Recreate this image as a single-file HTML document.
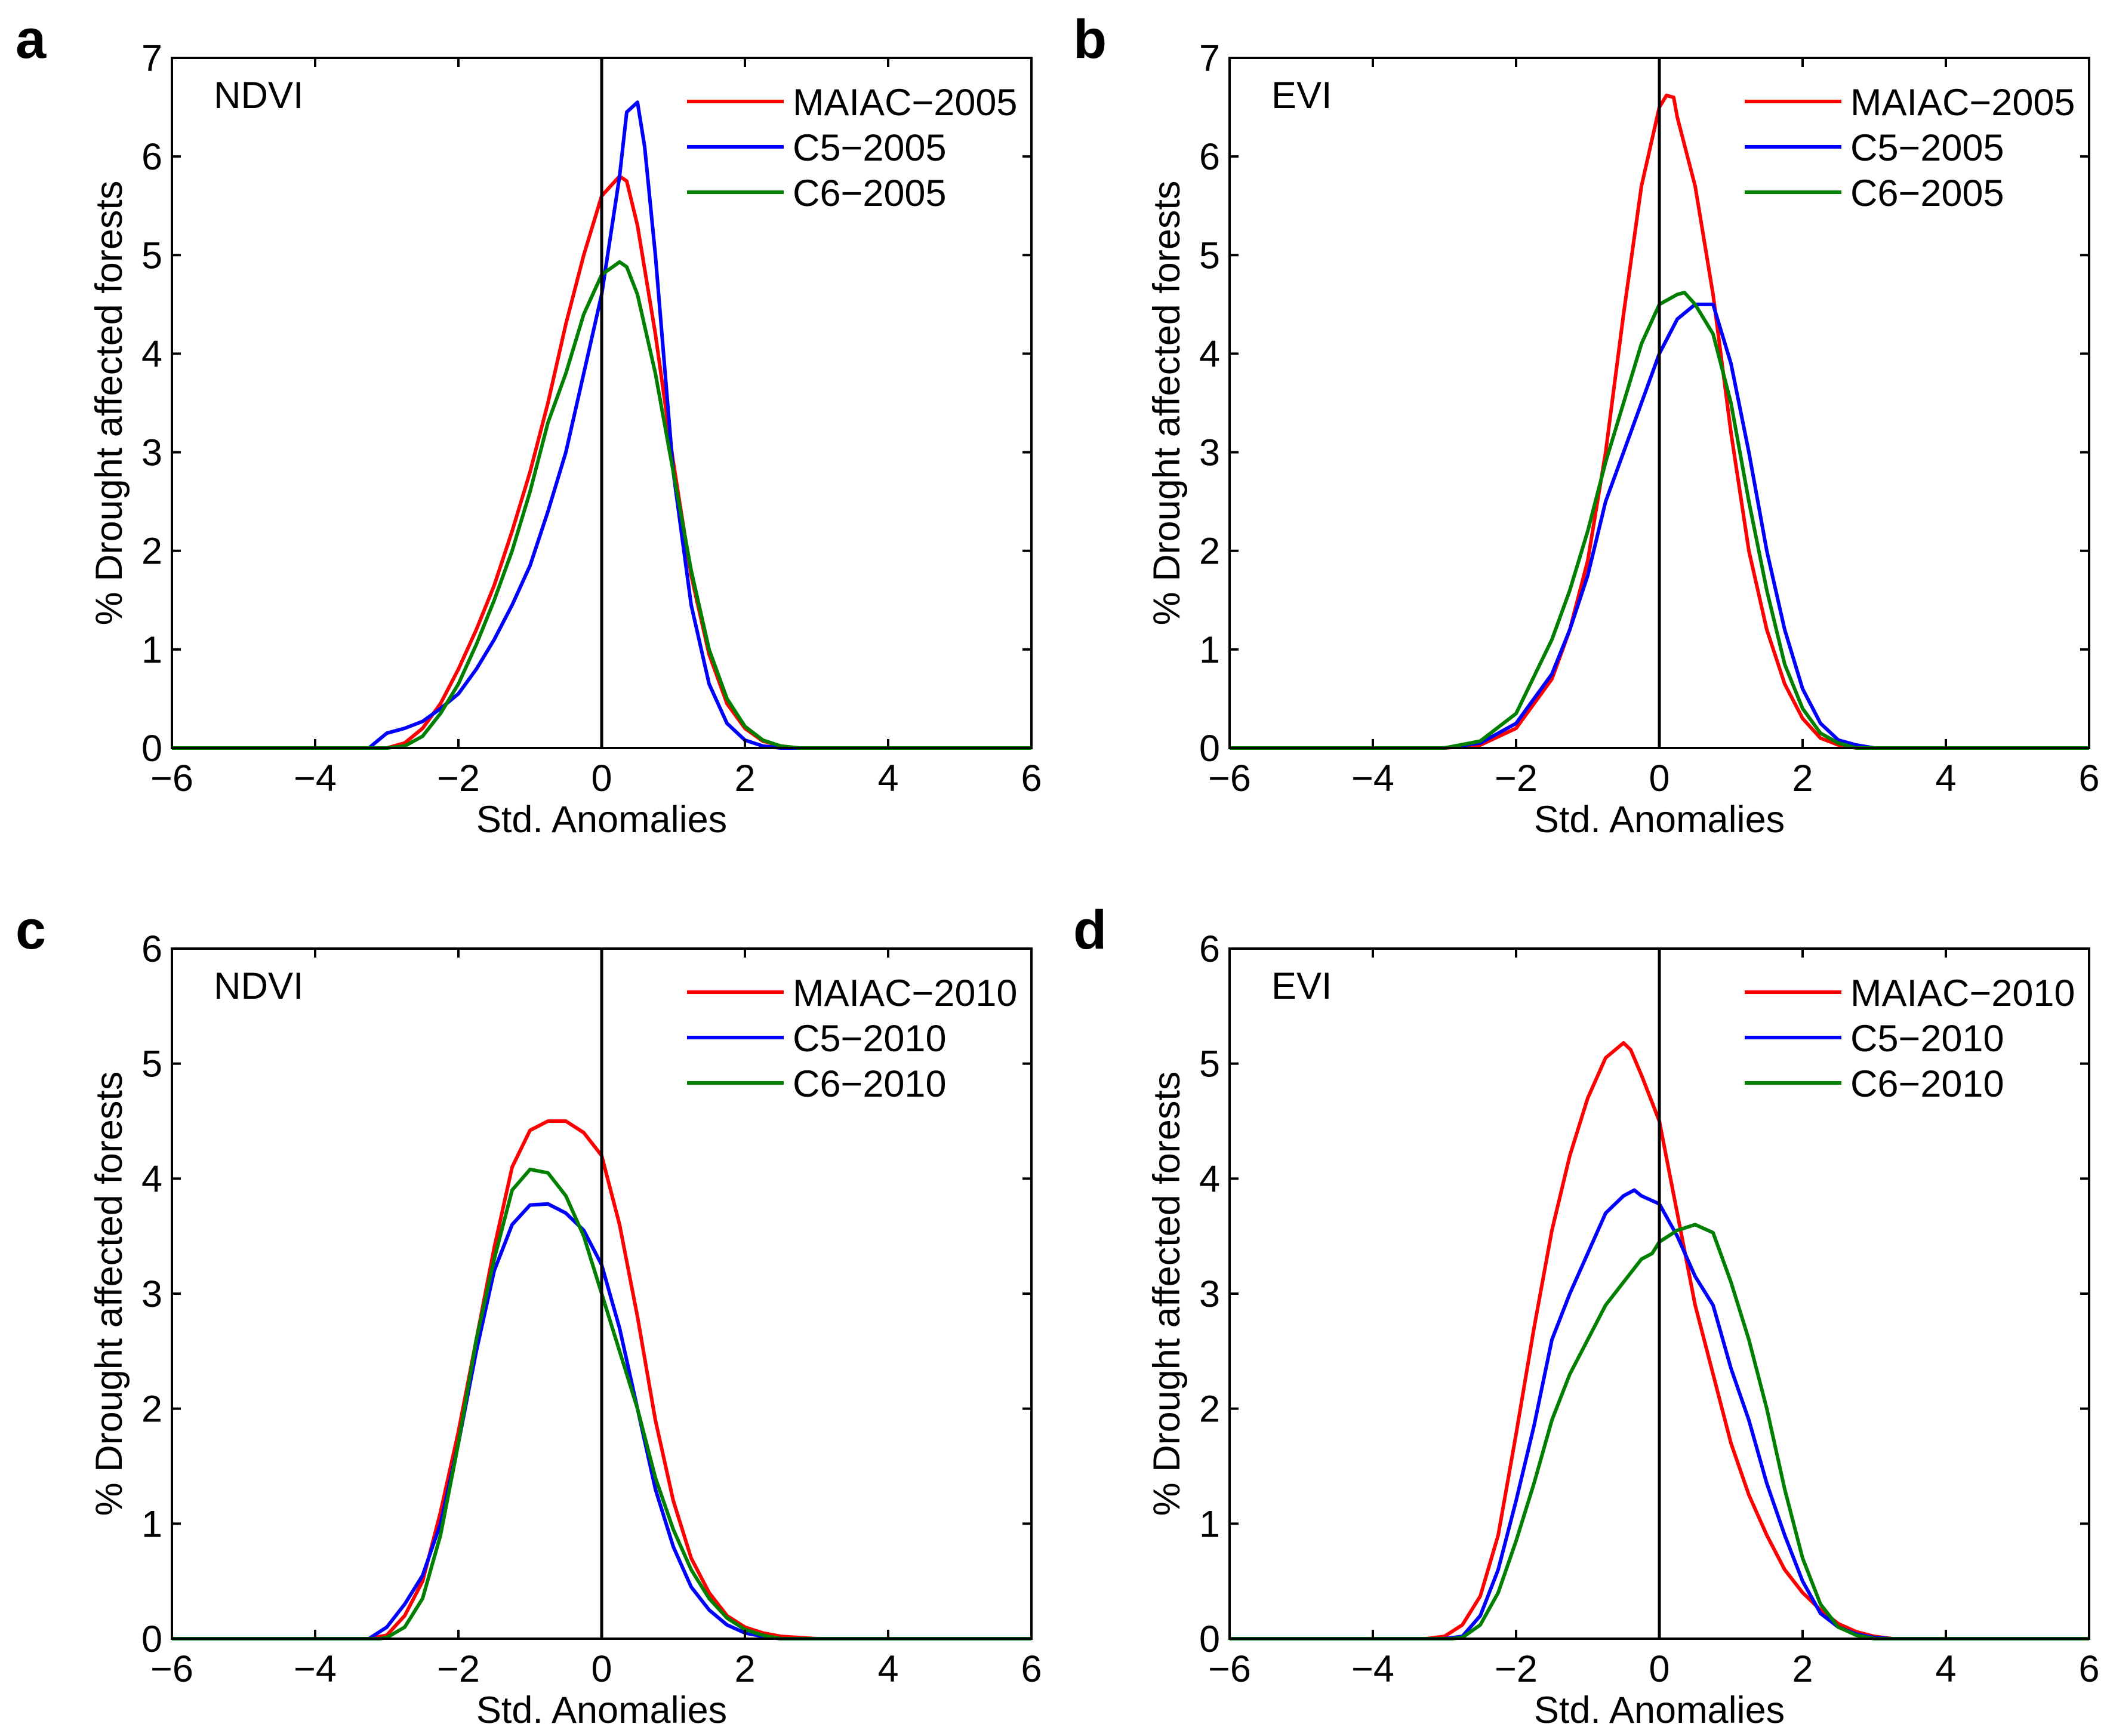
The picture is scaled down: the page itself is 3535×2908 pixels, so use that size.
<!DOCTYPE html>
<html><head><meta charset="utf-8"><style>
html,body{margin:0;padding:0;background:#fff;}
svg{display:block;font-family:"Liberation Sans",Arial,sans-serif;}
</style></head><body>
<svg id="fig" width="3535" height="2908" viewBox="0 0 3535 2908" xmlns="http://www.w3.org/2000/svg"></svg>
<script>
// ---- data (x = std. anomaly, y = % drought affected forests) ----
const aRedX=[-6,-3,-2.75,-2.5,-2.25,-2,-1.75,-1.5,-1.25,-1,-0.75,-0.5,-0.25,0,0.25,0.35,0.5,0.75,1,1.25,1.5,1.75,2,2.25,2.5,2.75,6];
const aRedY=[0,0,0.05,0.2,0.45,0.8,1.2,1.65,2.2,2.8,3.5,4.3,5.0,5.6,5.8,5.75,5.3,4.2,2.9,1.75,0.95,0.45,0.2,0.07,0.02,0,0];
const aBlueX=[-6,-3.25,-3,-2.75,-2.5,-2.25,-2,-1.75,-1.5,-1.25,-1,-0.75,-0.5,-0.25,0,0.25,0.35,0.5,0.6,0.75,1,1.25,1.5,1.75,2,2.25,2.5,6];
const aBlueY=[0,0,0.15,0.2,0.27,0.4,0.55,0.8,1.1,1.45,1.85,2.4,3.0,3.8,4.6,5.8,6.45,6.55,6.1,5.0,2.8,1.45,0.65,0.25,0.08,0.02,0,0];
const aGreenX=[-6,-3,-2.75,-2.5,-2.25,-2,-1.75,-1.5,-1.25,-1,-0.75,-0.5,-0.25,0,0.25,0.35,0.5,0.75,1,1.25,1.5,1.75,2,2.25,2.5,2.75,6];
const aGreenY=[0,0,0.02,0.12,0.35,0.65,1.05,1.5,2.0,2.6,3.3,3.8,4.4,4.8,4.93,4.88,4.6,3.8,2.8,1.8,1.0,0.5,0.22,0.08,0.02,0,0];

const bRedX=[-6,-3,-2.5,-2,-1.5,-1.25,-1,-0.75,-0.5,-0.25,0,0.1,0.2,0.25,0.5,0.75,1,1.25,1.5,1.75,2,2.25,2.5,2.75,6];
const bRedY=[0,0,0.03,0.2,0.7,1.2,1.9,3.0,4.4,5.7,6.5,6.62,6.6,6.4,5.7,4.6,3.2,2.0,1.2,0.65,0.3,0.1,0.03,0,0];
const bBlueX=[-6,-3,-2.5,-2,-1.5,-1.25,-1,-0.75,-0.5,-0.25,0,0.25,0.5,0.75,1,1.25,1.5,1.75,2,2.25,2.5,2.75,3,6];
const bBlueY=[0,0,0.05,0.25,0.75,1.2,1.75,2.5,3.0,3.5,4.0,4.35,4.5,4.5,3.9,3.0,2.0,1.2,0.6,0.25,0.08,0.03,0,0];
const bGreenX=[-6,-3,-2.5,-2,-1.5,-1.25,-1,-0.75,-0.5,-0.25,0,0.25,0.35,0.5,0.75,1,1.25,1.5,1.75,2,2.25,2.5,2.75,6];
const bGreenY=[0,0,0.07,0.35,1.1,1.6,2.2,2.9,3.5,4.1,4.5,4.6,4.62,4.5,4.2,3.5,2.5,1.6,0.85,0.4,0.15,0.05,0,0];

const cRedX=[-6,-3.25,-3,-2.75,-2.5,-2.25,-2,-1.75,-1.5,-1.25,-1,-0.75,-0.5,-0.25,0,0.25,0.5,0.75,1,1.25,1.5,1.75,2,2.25,2.5,3,6];
const cRedY=[0,0,0.03,0.2,0.5,1.1,1.8,2.6,3.4,4.1,4.42,4.5,4.5,4.4,4.2,3.6,2.8,1.9,1.2,0.7,0.4,0.2,0.1,0.05,0.02,0,0];
const cBlueX=[-6,-3.25,-3,-2.75,-2.5,-2.25,-2,-1.75,-1.5,-1.25,-1,-0.75,-0.5,-0.25,0,0.25,0.5,0.75,1,1.25,1.5,1.75,2,2.25,2.5,6];
const cBlueY=[0,0,0.1,0.3,0.55,1.0,1.7,2.5,3.2,3.6,3.77,3.78,3.7,3.55,3.25,2.7,2.0,1.3,0.8,0.45,0.25,0.12,0.05,0.02,0,0];
const cGreenX=[-6,-3.1,-3,-2.75,-2.5,-2.25,-2,-1.75,-1.5,-1.25,-1,-0.75,-0.5,-0.25,0,0.25,0.5,0.75,1,1.25,1.5,1.75,2,2.25,2.5,6];
const cGreenY=[0,0,0.01,0.1,0.35,0.9,1.7,2.6,3.3,3.9,4.08,4.05,3.85,3.5,3.0,2.5,2.0,1.4,0.95,0.6,0.35,0.18,0.08,0.03,0,0];

const dRedX=[-6,-3.25,-3,-2.75,-2.5,-2.25,-2,-1.75,-1.5,-1.25,-1,-0.75,-0.5,-0.4,-0.25,0,0.25,0.5,0.75,1,1.25,1.5,1.75,2,2.25,2.5,2.75,3,3.25,6];
const dRedY=[0,0,0.02,0.12,0.37,0.9,1.78,2.7,3.55,4.2,4.7,5.05,5.18,5.12,4.9,4.5,3.7,2.9,2.3,1.7,1.25,0.9,0.6,0.4,0.25,0.13,0.06,0.02,0,0];
const dBlueX=[-6,-3,-2.75,-2.5,-2.25,-2,-1.75,-1.5,-1.25,-1,-0.75,-0.5,-0.35,-0.25,0,0.25,0.5,0.75,1,1.25,1.5,1.75,2,2.25,2.5,2.75,3,3.25,6];
const dBlueY=[0,0,0.02,0.2,0.6,1.2,1.85,2.6,3.0,3.35,3.7,3.85,3.9,3.85,3.78,3.5,3.15,2.9,2.35,1.9,1.35,0.9,0.5,0.22,0.1,0.04,0.01,0,0];
const dGreenX=[-6,-2.9,-2.75,-2.5,-2.25,-2,-1.75,-1.5,-1.25,-1,-0.75,-0.5,-0.25,-0.1,0,0.25,0.5,0.75,1,1.25,1.5,1.75,2,2.25,2.5,2.75,3,6];
const dGreenY=[0,0,0.01,0.12,0.4,0.85,1.35,1.9,2.3,2.6,2.9,3.1,3.3,3.35,3.45,3.55,3.6,3.53,3.1,2.6,2.0,1.3,0.7,0.3,0.1,0.03,0,0];

const xTicks=[-6,-4,-2,0,2,4,6];
const yTicks7=[0,1,2,3,4,5,6,7];
const yTicks6=[0,1,2,3,4,5,6];

const panels=[
 {id:'a',L:288,T:97,ymax:7,yt:yTicks7,idx:'NDVI',yr:'2005',s:[[aRedX,aRedY],[aBlueX,aBlueY],[aGreenX,aGreenY]]},
 {id:'b',L:2060,T:97,ymax:7,yt:yTicks7,idx:'EVI',yr:'2005',s:[[bRedX,bRedY],[bBlueX,bBlueY],[bGreenX,bGreenY]]},
 {id:'c',L:288,T:1589,ymax:6,yt:yTicks6,idx:'NDVI',yr:'2010',s:[[cRedX,cRedY],[cBlueX,cBlueY],[cGreenX,cGreenY]]},
 {id:'d',L:2060,T:1589,ymax:6,yt:yTicks6,idx:'EVI',yr:'2010',s:[[dRedX,dRedY],[dBlueX,dBlueY],[dGreenX,dGreenY]]}
];
const W=1440,H=1156,colors=['#ff0000','#0000ff','#007f00'],names=['MAIAC','C5','C6'];
const NS='http://www.w3.org/2000/svg',fig=document.getElementById('fig');
function mk(tag,attrs,parent,text){const e=document.createElementNS(NS,tag);for(const k in attrs)e.setAttribute(k,attrs[k]);if(text!==undefined)e.textContent=text;parent.appendChild(e);return e;}

panels.forEach(p=>{
 const g=mk('g',{},fig);
 
 
 const sx=v=>p.L+(v+6)/12*W, sy=v=>p.T+H-v/p.ymax*H;
 const lt=mk('text',{x:p.L-262,y:p.T,'font-size':92,'font-weight':'bold'},g,p.id);
 
 
 p.s.forEach((s,i)=>{
  const pts=s[0].map((x,j)=>sx(x).toFixed(1)+','+sy(s[1][j]).toFixed(1)).join(' ');
  const pl=mk('polyline',{points:pts,fill:'none',stroke:colors[i],'stroke-width':6,'stroke-linejoin':'round'},g);
  
  
 });
 const zl=mk('line',{x1:sx(0),x2:sx(0),y1:p.T,y2:p.T+H,stroke:'#000','stroke-width':5},g);
 
 
 const bx=mk('rect',{x:p.L,y:p.T,width:W,height:H,fill:'none',stroke:'#000','stroke-width':4},g);
 
 
 xTicks.forEach(t=>{
  mk('line',{x1:sx(t),x2:sx(t),y1:p.T+H,y2:p.T+H-15,stroke:'#000','stroke-width':4},g);
  mk('line',{x1:sx(t),x2:sx(t),y1:p.T,y2:p.T+15,stroke:'#000','stroke-width':4},g);
  const tl=mk('text',{x:sx(t),y:p.T+H+72,'font-size':63,'text-anchor':'middle'},g,t<0?'\u2212'+(-t):String(t));
  
  
 });
 p.yt.forEach(t=>{
  mk('line',{x1:p.L,x2:p.L+15,y1:sy(t),y2:sy(t),stroke:'#000','stroke-width':4},g);
  mk('line',{x1:p.L+W,x2:p.L+W-15,y1:sy(t),y2:sy(t),stroke:'#000','stroke-width':4},g);
  const tl=mk('text',{x:p.L-16,y:sy(t)+22,'font-size':63,'text-anchor':'end'},g,String(t));
  
  
 });
 const xt=mk('text',{x:p.L+W/2,y:p.T+H+141,'font-size':63,'text-anchor':'middle'},g,'Std. Anomalies');
 
 
 const cy=p.T+H/2,cx=p.L-84;
 const yt=mk('text',{x:cx,y:cy,'font-size':63,'text-anchor':'middle',transform:`rotate(-90 ${cx} ${cy})`},g,'% Drought affected forests');
 
 
 const il=mk('text',{x:p.L+70,y:p.T+84,'font-size':63},g,p.idx);
 
 
 names.forEach((n,i)=>{
  const y=p.T+73+i*76;
  const ln=mk('line',{x1:p.L+863,x2:p.L+1025,y1:y,y2:y,stroke:colors[i],'stroke-width':6},g);
  
  
  const tx=mk('text',{x:p.L+1040,y:y+23,'font-size':63},g,n+'\u2212'+p.yr);
  
  
 });
});
</script>
</body></html>
